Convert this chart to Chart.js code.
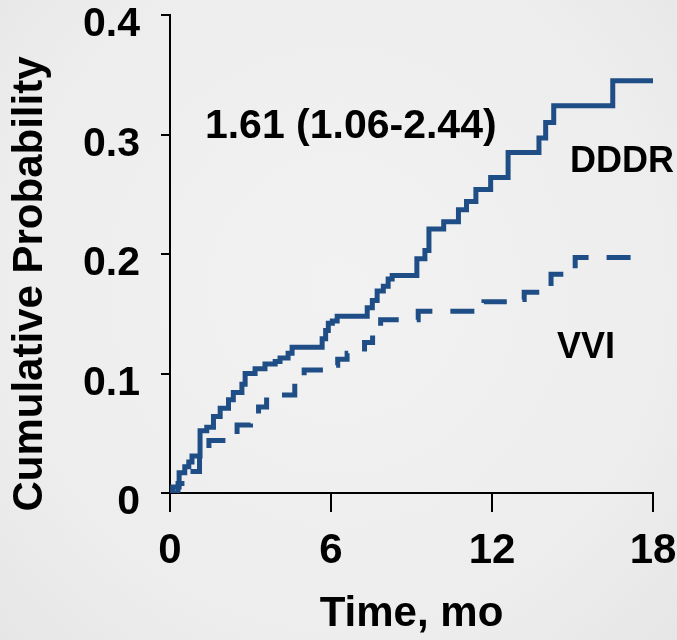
<!DOCTYPE html>
<html>
<head>
<meta charset="utf-8">
<script src="https://cdn.jsdelivr.net/npm/chart.js@4.4.1/dist/chart.umd.min.js"></script>
<style>
  html, body { margin: 0; padding: 0; }
  body { width: 677px; height: 640px; background: radial-gradient(ellipse at 50% 45%, #f2f2f2 0%, #ededed 70%, #e6e6e6 100%); overflow: hidden; }
  #wrap { position: relative; width: 677px; height: 640px; }
</style>
</head>
<body>
<div id="wrap"><canvas id="c"></canvas></div>
<script>
// ---- data ----
const dddrTime = [0, 0.1, 0.34, 0.55, 0.7, 0.82, 1.12, 1.37, 1.62, 1.87, 2.18, 2.36, 2.68, 2.8, 3.17, 3.54, 3.92, 4.1, 4.4, 4.55, 5.67, 5.8, 5.9, 6.05, 6.23, 7.35, 7.54, 7.72, 7.95, 8.13, 8.28, 9.2, 9.5, 9.65, 10.2, 10.75, 11.05, 11.4, 11.95, 12.6, 13.75, 14.0, 14.3, 16.5, 18];
const dddrProb = [0, 0.005, 0.017, 0.022, 0.026, 0.031, 0.052, 0.055, 0.064, 0.071, 0.078, 0.084, 0.091, 0.100, 0.104, 0.108, 0.110, 0.113, 0.117, 0.122, 0.129, 0.136, 0.142, 0.144, 0.148, 0.155, 0.161, 0.169, 0.173, 0.179, 0.182, 0.196, 0.203, 0.221, 0.227, 0.237, 0.244, 0.254, 0.264, 0.285, 0.297, 0.310, 0.324, 0.345, 0.345];

const vviTime = [0, 0.3, 0.7, 1.1, 1.45, 2.1, 2.5, 3.0, 3.3, 3.6, 4.65, 5.0, 6.05, 6.25, 6.6, 7.25, 7.55, 7.85, 9.25, 11.7, 12.75, 13.2, 14.2, 15.1, 17.7];
const vviProb = [0, 0.008, 0.018, 0.030, 0.044, 0.048, 0.057, 0.063, 0.072, 0.082, 0.094, 0.103, 0.107, 0.112, 0.117, 0.126, 0.136, 0.145, 0.152, 0.160, 0.162, 0.168, 0.183, 0.197, 0.197];

const seriesNames = ['DDDR', 'VVI'];
const xTickLabels = ['0', '6', '12', '18'];
const yTickLabels = ['0', '0.1', '0.2', '0.3', '0.4'];
const xTitle = 'Time, mo';
const yTitle = 'Cumulative Probability';
const hrLabel = '1.61 (1.06-2.44)';

// ---- chart ----
const FONT = "'Liberation Sans', Arial, Helvetica, sans-serif";
const LINE = '#1F4E86';

const toPts = (xs, ys) => xs.map((x, i) => ({ x: x, y: ys[i] }));

const textPlugin = {
  id: 'texts',
  afterDraw(chart) {
    const { ctx, scales: { x, y } } = chart;
    ctx.save();
    ctx.fillStyle = '#000';
    // y axis title
    ctx.font = 'bold 42px ' + FONT;
    ctx.textAlign = 'center';
    ctx.textBaseline = 'middle';
    ctx.translate(30, 284);
    ctx.rotate(-Math.PI / 2);
    ctx.fillText(yTitle, 0, 0);
    ctx.restore();

    ctx.save();
    ctx.fillStyle = '#000';
    ctx.textAlign = 'left';
    ctx.textBaseline = 'alphabetic';
    ctx.font = 'bold 41px ' + FONT;
    ctx.fillText(hrLabel, x.getPixelForValue(1.3), y.getPixelForValue(0.297));
    ctx.font = 'bold 36px ' + FONT;
    ctx.fillText(seriesNames[0], x.getPixelForValue(14.91), y.getPixelForValue(0.2686));
    ctx.fillText(seriesNames[1], x.getPixelForValue(14.42), y.getPixelForValue(0.113));
    ctx.restore();
  }
};

new Chart(document.getElementById('c'), {
  type: 'line',
  data: {
    datasets: [
      {
        label: seriesNames[0],
        data: toPts(dddrTime, dddrProb),
        borderColor: LINE,
        borderWidth: 5,
        stepped: 'before',
        pointRadius: 0,
        fill: false,
        borderJoinStyle: 'miter',
        borderCapStyle: 'butt'
      },
      {
        label: seriesNames[1],
        data: toPts(vviTime, vviProb),
        borderColor: LINE,
        borderWidth: 5,
        borderDash: [24, 18],
        stepped: 'before',
        pointRadius: 0,
        fill: false,
        borderJoinStyle: 'miter',
        borderCapStyle: 'butt'
      }
    ]
  },
  options: {
    responsive: true,
    maintainAspectRatio: false,
    animation: false,
    layout: { padding: { top: 15, right: 24, bottom: 0, left: 0 } },
    plugins: { legend: { display: false }, tooltip: { enabled: false } },
    scales: {
      x: {
        type: 'linear',
        min: 0, max: 18,
        ticks: {
          stepSize: 6,
          autoSkip: false,
          maxRotation: 0,
          color: '#000',
          padding: 14,
          font: { family: FONT, size: 42, weight: 'bold' },
          callback: (v) => xTickLabels[Math.round(v / 6)]
        },
        grid: { display: true, drawOnChartArea: false, drawTicks: true, tickLength: 19, tickColor: '#000', tickWidth: 2, color: '#000', lineWidth: 2 },
        border: { display: true, color: '#000', width: 2 },
        title: { display: true, text: xTitle, color: '#000', font: { family: FONT, size: 42, weight: 'bold' }, padding: { top: 0, bottom: 0 } },
        afterFit: (s) => { s.height = 147; s.paddingLeft = 0; s.paddingRight = 0; }
      },
      y: {
        type: 'linear',
        min: 0, max: 0.4,
        ticks: {
          stepSize: 0.1,
          color: '#000',
          padding: 21,
          labelOffset: 10,
          font: { family: FONT, size: 41, weight: 'bold' },
          callback: (v) => yTickLabels[Math.round(v * 10)]
        },
        grid: { display: true, drawOnChartArea: false, drawTicks: true, tickLength: 9, tickColor: '#000', tickWidth: 2, color: '#000', lineWidth: 2 },
        border: { display: true, color: '#000', width: 2 },
        afterFit: (s) => { s.width = 170; s.paddingTop = 0; s.paddingBottom = 0; }
      }
    }
  },
  plugins: [textPlugin]
});
</script>
</body>
</html>
